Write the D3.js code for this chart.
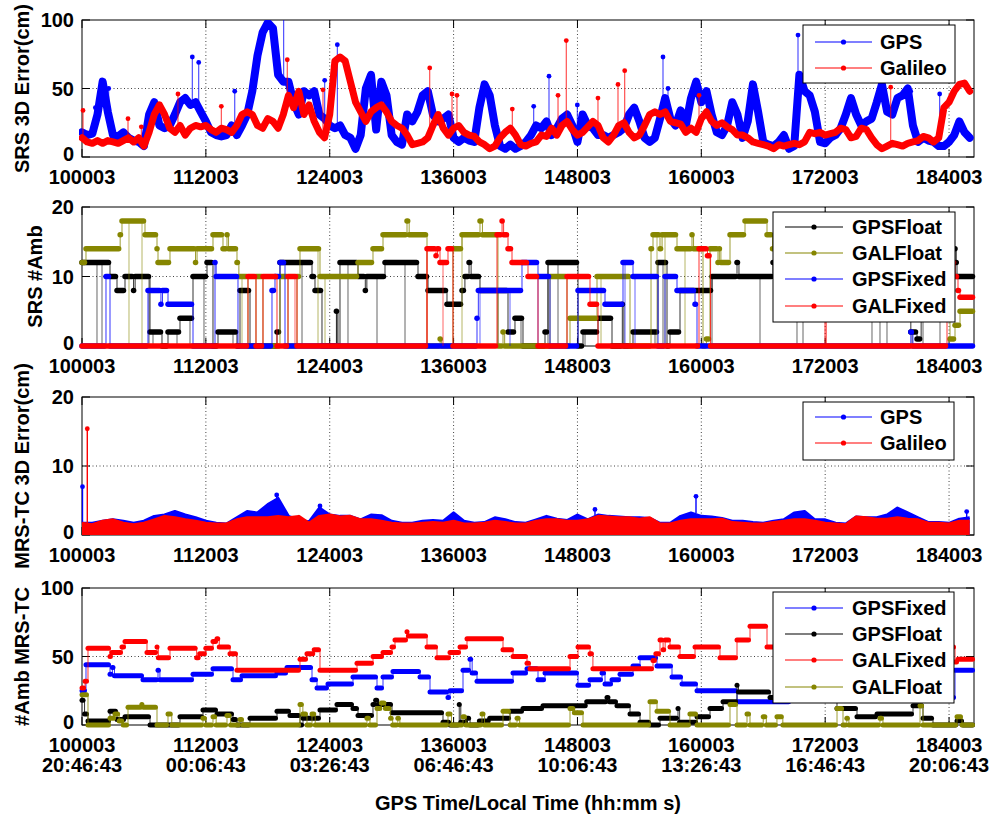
<!DOCTYPE html>
<html><head><meta charset="utf-8">
<script src="https://cdn.jsdelivr.net/npm/d3@7"></script>
<style>
body{margin:0;background:#fff;}
svg{display:block;font-family:"Liberation Sans",Arial,sans-serif;font-weight:bold;}
</style></head><body>
<svg id="chart" width="994" height="814"></svg>
<script>
// ---- time axis ----
const timeStart = 100003, timeEnd = 186420;
const xTickValues = [100003,112003,124003,136003,148003,160003,172003,184003];
const localTimeLabels = ['20:46:43','00:06:43','03:26:43','06:46:43','10:06:43','13:26:43','16:46:43','20:06:43'];
const xAxisTitle = 'GPS Time/Local Time (hh:mm s)';

// ---- SRS 3D error (cm), one sample every 500 s ----
const srsStep = 500;
const srsErrGps = [18,16,17,31,55,33,16,15,18,14, 12,11,8,31,40,23,21,23,31,40, 43,38,40,33,26,18,16,15,16,23,
  16,23,31,48,74,91,98,94,60,55, 55,40,31,48,45,48,31,28,23,21, 23,16,14,6,16,50,60,20,55,45,
  16,11,9,31,26,33,45,48,31,26, 28,31,14,11,14,12,11,36,53,45, 23,8,6,9,6,8,11,16,23,21,
  26,16,21,28,31,23,11,31,23,21, 16,16,14,16,18,21,31,36,26,14, 11,14,28,43,28,23,34,23,43,55,
  40,48,31,18,16,23,40,31,14,26, 53,33,11,9,8,11,16,6,8,60, 48,45,33,11,10,14,16,21,31,43,
  31,23,26,28,40,53,33,31,43,45, 50,23,11,14,12,11,8,8,11,16, 26,18,14];
const srsErrGal = [14,11,10,12,10,12,11,10,12,14, 11,14,8,18,31,38,31,21,18,23, 16,21,23,22,23,20,18,21,20,18,
  23,31,33,31,23,21,28,26,21,31, 45,36,48,31,38,26,18,14,31,70, 73,70,55,40,33,26,33,36,38,33,
  26,23,21,16,9,10,11,14,23,31, 21,16,21,23,18,16,15,11,9,6, 8,14,18,21,16,9,8,10,11,16,
  15,21,16,23,26,20,16,18,22,26, 23,14,11,16,23,25,18,14,16,23, 31,33,31,33,26,25,24,18,21,18,
  28,33,26,23,25,22,20,16,16,14, 11,10,9,8,6,9,8,9,10,9, 11,18,17,18,16,17,18,21,20,14,
  15,21,20,14,9,6,8,10,9,8, 10,11,12,15,14,11,14,36,40,48, 53,54,48];
// isolated outlier samples [time, cm]
const srsSpikesGps = [[101300,36],[102590,50],[110690,73],[111310,69],[114800,48],[119540,140],[123515,56],[124740,82],
  [143763,37],[145246,59],[147990,38],[156290,73],[156775,50],[169369,89],[180285,48],[183093,46]];
const srsSpikesGal = [[100100,34],[104460,28],[105750,22],[109300,46],[113500,37],[119890,71],[123350,49],[133690,65],
  [135850,46],[136330,45],[141690,35],[146120,45],[146920,85],[149990,43],[151930,53],[152580,63],[159780,45],[178350,51]];

// ---- SRS ambiguity counts: [time, count] change points ----
const ambSrsGpsFloat = [[100003,12],[102716,10],[103394,8],[104169,10],[105000,8],[105150,10],[106591,2],[107753,0],[108335,2],
  [109497,4],[110757,10],[112113,12],[112694,0],[113179,2],[115019,0],[115310,8],[116279,0],[118894,2],[119185,12],[122286,10],
  [122576,8],[123254,0],[124650,5],[124800,0],[124998,12],[126742,10],[127450,8],[127600,10],[129358,12],[132555,10],[133524,8],
  [135364,6],[136818,8],[137100,10],[137500,12],[137700,10],[138561,8],[141274,2],[141950,4],[142727,0],[144859,2],[145150,12],
  [148056,0],[148541,2],[149994,4],[151350,0],[152350,6],[152500,0],[153385,2],[155807,12],[156679,0],[156970,2],[157938,8],
  [161038,10],[163460,12],[163650,10],[166948,12],[167200,10],[180300,2],[180900,1],[181300,10],[184580,14],[184700,12],[184774,10]];
const ambSrsGalFloat = [[100003,12],[100390,14],[103700,16],[103878,18],[106106,16],[107270,14],[107366,12],[108528,14],[111000,12],
  [111150,14],[112694,16],[113663,14],[114050,16],[114200,14],[115019,12],[115200,10],[116085,0],[116860,10],[117538,0],[119185,10],
  [119961,0],[120833,10],[121123,14],[123060,10],[126742,12],[128195,14],[129164,16],[131489,18],[131700,16],[133427,0],[134700,1],
  [134850,0],[135946,14],[136818,16],[138561,18],[138800,16],[140300,0],[140790,2],[140950,0],[145344,10],[146991,0],[147281,4],
  [149897,10],[153094,0],[155130,14],[155322,16],[156001,14],[156200,16],[157648,14],[159100,16],[159250,14],[160166,0],[160500,1],
  [160844,14],[161619,12],[161750,14],[161900,12],[162782,16],[164235,18],[166367,16],[166900,14],[184095,1],[184580,3],[185065,5]];
const ambSrsGpsFixed = [[100003,0],[102328,10],[102716,0],[106397,8],[107650,6],[107800,8],[108335,6],[110757,0],[112888,12],
  [113000,10],[115116,0],[118410,8],[118700,10],[119185,12],[119670,0],[138271,4],[138400,8],[142630,12],[144181,10],[145344,0],
  [148056,8],[150672,6],[152416,12],[153385,10],[155807,0],[156485,10],[157648,8],[159392,6],[159585,0],[180300,2],[180500,0]];
const ambSrsGalFixed = [[100003,0],[116085,10],[116860,0],[117538,10],[118894,0],[119961,10],[120833,0],[133427,14],[134300,13],
  [134450,14],[134687,12],[135461,14],[135946,0],[140208,16],[140700,18],[140850,16],[141274,14],[141662,12],[143212,10],[144181,0],
  [146991,10],[149219,6],[149994,0],[159779,14],[160600,13],[160900,0],[171986,12],[172100,0],[183805,12],[184580,10],[184870,8],[185065,7]];
// single epochs where the count fell to zero
const dropsSrsGpsFloat = [101456,101941,106494,106882,109207,110466,111822,114632,117441,117732,117926,121317,124707,125773,128583,
  131296,140305,142534,145150,146119,148734,153094,155516,156291,161038,165688,169272,169854,176538,177313,177991,180414,181480,183127];
const dropsSrsGalFloat = [104556,105816,115504,122867,123545,134202,136818,150284,155710,156485,158423];
const dropsSrsGpsFixed = [138561,141468,144181,147959,152610,153579];
const dropsSrsGalFixed = [115794,120638,133427,134978,152000];

// ---- MRS-TC 3D error (cm), one sample every 1000 s ----
const mrsStep = 1000;
const mrsErrGps = [1.7,1.7,2.0,2.2,2.0,1.7,2.0,2.7,2.9,3.4, 2.9,2.5,2.0,1.7,1.6,2.5,3.4,3.2,4.4,5.3,
  2.7,2.2,1.9,3.9,2.9,2.7,2.7,2.2,2.9,2.8, 2.0,1.7,1.7,2.0,2.1,2.0,3.2,2.0,1.7,1.8,
  2.5,2.2,1.8,1.7,2.2,2.7,2.3,2.1,2.9,2.2, 2.9,2.7,2.6,2.5,2.5,2.4,1.7,1.7,2.7,3.2,
  2.7,2.6,2.4,2.0,2.0,1.8,1.7,2.0,2.2,3.2, 3.4,2.2,2.2,1.7,1.6,2.6,2.5,2.5,2.9,3.9, 3.2,2.5,1.8,1.8,1.7,2.3,2.5];
const mrsErrGal = [1.7,1.5,2.0,2.2,1.7,1.5,1.7,2.2,2.7,2.5, 2.2,2.0,1.7,1.6,1.6,2.2,2.5,2.5,2.5,2.7,
  2.5,2.7,1.7,2.7,2.9,2.6,2.7,2.2,2.2,2.0, 1.7,1.6,1.6,1.7,1.8,1.7,2.0,1.6,1.6,1.7,
  2.0,1.8,1.6,1.6,2.0,2.2,2.2,2.0,2.0,2.2, 2.7,2.6,2.5,2.5,2.3,2.5,1.6,1.6,2.0,2.2,
  2.2,2.2,2.3,1.8,1.7,1.6,1.6,1.8,2.0,2.2, 2.2,2.0,1.7,1.6,1.5,2.6,2.5,2.3,2.3,2.5, 2.3,2.2,1.7,1.7,1.6,2.0,2.0];
const mrsSpikesGps = [[100050,7.0],[118865,5.8],[123060,4.2],[149700,3.7],[159487,5.6],[185712,3.4]];
const mrsSpikesGal = [[100516,15.4]];

// ---- MRS-TC ambiguity counts: [time, count] change points ----
const ambMrsGpsFixed = [[100003,25],[100390,44],[102716,37],[102950,42],[103150,36],[105913,33],[107366,40],[107550,33],[110757,37],
  [112694,41],[114632,33],[115504,36],[118894,38],[119864,42],[122286,33],[122770,27],[123835,30],[126257,35],[128583,27],[129164,35],
  [130132,39],[132749,35],[133718,24],[135461,20],[135655,25],[136915,40],[137593,48],[137800,38],[138271,32],[141759,38],[143115,41],
  [144181,33],[144859,38],[148056,29],[149219,33],[150381,38],[150672,30],[151350,33],[152125,37],[153385,43],[154063,49],[155710,43],
  [157163,35],[158132,30],[159585,25],[163460,17],[168600,20],[184580,40]];
const ambMrsGpsFloat = [[100003,18],[100250,8],[100584,3],[102716,10],[103394,4],[104169,6],[106591,0],[109497,6],[111725,11],
  [113082,8],[114632,4],[115019,0],[116279,5],[118894,10],[120153,7],[121123,0],[121414,5],[123060,11],[124707,15],[126257,12],
  [126742,7],[128195,15],[128450,18],[128700,15],[130036,9],[134978,2],[135655,0],[136550,15],[136700,2],[137302,5],[137600,0],
  [138500,3],[139500,5],[141468,10],[142727,12],[144665,14],[148900,17],[150866,20],[151100,17],[151833,14],[153094,8],[154063,2],
  [155032,0],[156001,5],[157745,12],[157900,2],[159585,6],[160844,12],[162104,17],[163460,29],[163600,24],[166657,20],[173147,12],
  [175085,6],[177023,8],[180511,14],[181480,5],[182449,0],[184774,3],[185356,0]];
const ambMrsGalFixed = [[100003,27],[100300,32],[100584,56],[102716,50],[102900,53],[103878,57],[104169,61],[106300,53],[107270,57],
  [107400,49],[108528,56],[111110,49],[111400,52],[112000,56],[112694,61],[113082,63],[113300,57],[114341,52],[115019,40],[121123,48],
  [121800,52],[122500,55],[123060,40],[126645,45],[128195,50],[129164,53],[130036,57],[130326,62],[131489,68],[131620,65],[133427,57],
  [134396,49],[135655,53],[136624,57],[137302,63],[140790,55],[141759,50],[143115,45],[143406,41],[147281,50],[148056,57],[149219,52],
  [149500,41],[155322,47],[155600,52],[156001,62],[156300,55],[156500,62],[156970,57],[157938,50],[159392,57],[161813,49],[163460,62],
  [164720,72],[166367,57],[184580,46],[184870,48]];
const ambMrsGalFloat = [[100003,22],[100584,0],[102716,5],[103200,8],[103600,3],[104000,0],[104460,13],[105800,15],[105950,13],
  [107269,0],[108335,8],[108700,0],[111725,5],[112000,0],[112694,6],[113000,0],[114050,7],[114400,0],[115310,4],[115600,0],[121123,15],
  [121400,8],[121800,0],[122286,8],[122600,0],[127610,5],[127900,0],[128583,12],[129000,16],[129400,12],[129900,5],[130100,0],[130600,5],
  [130800,0],[135461,8],[135800,0],[136915,6],[137200,0],[138755,8],[139000,0],[140790,10],[141468,0],[142150,5],[142400,0],[147281,12],
  [147700,9],[148541,0],[155030,17],[155710,10],[156970,0],[158900,8],[159585,0],[162782,15],[163460,0],[164429,8],[164720,0],[166000,6],
  [166300,0],[167330,6],[167900,0],[173150,12],[173730,0],[174100,5],[174300,0],[177313,5],[177600,0],[181190,14],[181480,0],[184774,6],[185259,0]];

// ---- drawing ----
const BLUE = '#0000ff', RED = '#ff0000', OLIVE = '#868600', BLACK = '#000000';
const svg = d3.select('#chart');
const x = d3.scaleLinear().domain([timeStart, timeEnd]).range([82, 974]);
const defs = svg.append('defs');

const panels = [
  {top: 20,  bottom: 157, max: 100, ticks: [0, 50, 100], label: 'SRS 3D Error(cm)',    labelX: 22},
  {top: 207, bottom: 346, max: 20,  ticks: [0, 10, 20],  label: 'SRS #Amb',            labelX: 35},
  {top: 397, bottom: 535, max: 20,  ticks: [0, 10, 20],  label: 'MRS-TC 3D Error(cm)', labelX: 22},
  {top: 588, bottom: 725, max: 100, ticks: [0, 50, 100], label: '#Amb MRS-TC',         labelX: 22}
];

function frame(p, k) {
  const y = d3.scaleLinear().domain([0, p.max]).range([p.bottom, p.top]);
  const [L, R] = x.range();
  const g = svg.append('g');
  // dotted grid
  xTickValues.slice(1).forEach(t => g.append('line').attr('x1', x(t)).attr('x2', x(t)).attr('y1', p.top).attr('y2', p.bottom)
    .attr('stroke', '#444').attr('stroke-width', 1).attr('stroke-dasharray', '1,2.5'));
  p.ticks.slice(1, -1).forEach(v => g.append('line').attr('x1', L).attr('x2', R).attr('y1', y(v)).attr('y2', y(v))
    .attr('stroke', '#444').attr('stroke-width', 1).attr('stroke-dasharray', '1,2.5'));
  // box and inward ticks
  g.append('rect').attr('x', L).attr('y', p.top).attr('width', R - L).attr('height', p.bottom - p.top)
    .attr('fill', 'none').attr('stroke', '#000').attr('stroke-width', 1);
  xTickValues.forEach(t => {
    g.append('line').attr('x1', x(t)).attr('x2', x(t)).attr('y1', p.bottom).attr('y2', p.bottom - 8).attr('stroke', '#000');
    g.append('line').attr('x1', x(t)).attr('x2', x(t)).attr('y1', p.top).attr('y2', p.top + 8).attr('stroke', '#000');
  });
  p.ticks.forEach(v => {
    g.append('line').attr('x1', L).attr('x2', L + 8).attr('y1', y(v)).attr('y2', y(v)).attr('stroke', '#000');
    g.append('line').attr('x1', R).attr('x2', R - 8).attr('y1', y(v)).attr('y2', y(v)).attr('stroke', '#000');
    g.append('text').attr('x', 74).attr('y', y(v)).attr('dy', v === 0 ? '0.2em' : '0.36em').attr('text-anchor', 'end')
      .attr('font-size', 20).text(v);
  });
  xTickValues.forEach(t => g.append('text').attr('x', x(t)).attr('y', p.bottom + 26.5).attr('text-anchor', 'middle')
    .attr('font-size', 20).text(t));
  g.append('text').attr('transform', `translate(${p.labelX},${(p.top + p.bottom) / 2}) rotate(-90)`)
    .attr('text-anchor', 'middle').attr('dy', '0.36em').attr('font-size', 20).text(p.label);
  defs.append('clipPath').attr('id', 'clip' + k).append('rect')
    .attr('x', L - 3).attr('y', p.top).attr('width', R - L + 6).attr('height', p.bottom - p.top + 3);
  const d = svg.append('g').attr('clip-path', `url(#clip${k})`);
  return {y, d};
}

function legend(entries, box, rows, lineX, textX) {
  const g = svg.append('g');
  g.append('rect').attr('x', box[0]).attr('y', box[1]).attr('width', box[2] - box[0]).attr('height', box[3] - box[1])
    .attr('fill', '#fff').attr('stroke', '#000').attr('stroke-width', 1);
  entries.forEach((e, k) => {
    g.append('line').attr('x1', lineX[0]).attr('x2', lineX[1]).attr('y1', rows[k]).attr('y2', rows[k])
      .attr('stroke', e[1]).attr('stroke-width', 1.2);
    g.append('circle').attr('cx', (lineX[0] + lineX[1]) / 2).attr('cy', rows[k]).attr('r', 2.6).attr('fill', e[1]);
    g.append('text').attr('x', textX).attr('y', rows[k]).attr('dy', '0.36em').attr('font-size', 20).text(e[0]);
  });
}

// dense error series: heavy line through the samples plus thin outlier spikes
function errorSeries(d, y, values, step, spikes, color, width) {
  const line = d3.line().x((v, i) => x(timeStart + i * step)).y(v => y(v)).curve(d3.curveLinear);
  d.append('path').attr('d', line(values)).attr('fill', 'none').attr('stroke', color)
    .attr('stroke-width', width).attr('stroke-linejoin', 'round').attr('stroke-linecap', 'round');
  spikes.forEach(([t, v]) => {
    const base = values[Math.min(values.length - 1, Math.round((t - timeStart) / step))];
    d.append('line').attr('x1', x(t)).attr('x2', x(t)).attr('y1', y(base)).attr('y2', y(v))
      .attr('stroke', color).attr('stroke-width', 1.1).attr('stroke-opacity', 0.75);
    d.append('circle').attr('cx', x(t)).attr('cy', y(v)).attr('r', 2.4).attr('fill', color);
  });
}

function levelAt(changes, t) {
  let v = changes[0][1];
  for (const c of changes) { if (c[0] <= t) v = c[1]; else break; }
  return v;
}

// count series: thin step trace, heavy runs of samples, and single-epoch drops to zero
function stepSeries(d, y, changes, drops, color, width) {
  const pts = changes.concat([[timeEnd, changes[changes.length - 1][1]]]);
  const line = d3.line().x(c => x(c[0])).y(c => y(c[1])).curve(d3.curveStepAfter);
  d.append('path').attr('d', line(pts)).attr('fill', 'none').attr('stroke', color)
    .attr('stroke-width', 1).attr('stroke-opacity', 0.8);
  drops.forEach(t => d.append('line').attr('x1', x(t)).attr('x2', x(t)).attr('y1', y(levelAt(changes, t))).attr('y2', y(0))
    .attr('stroke', color).attr('stroke-width', 1).attr('stroke-opacity', 0.6));
  changes.forEach((c, k) => {
    const t1 = k + 1 < changes.length ? changes[k + 1][0] : timeEnd;
    d.append('line').attr('x1', x(c[0])).attr('x2', Math.max(x(c[0]), x(t1) - 1.5)).attr('y1', y(c[1])).attr('y2', y(c[1]))
      .attr('stroke', color).attr('stroke-width', width).attr('stroke-linecap', 'round');
  });
}

// dense sub-decimetre series: the samples fill the band down to the axis
function bandSeries(d, y, values, step, spikes, color) {
  const area = d3.area().x((v, i) => x(timeStart + i * step)).y0(y(0)).y1(v => y(v));
  d.append('path').attr('d', area(values)).attr('fill', color);
  const line = d3.line().x((v, i) => x(timeStart + i * step)).y(v => y(v));
  d.append('path').attr('d', line(values)).attr('fill', 'none').attr('stroke', color).attr('stroke-width', 3)
    .attr('stroke-linejoin', 'round');
  spikes.forEach(([t, v]) => {
    const base = values[Math.min(values.length - 1, Math.round((t - timeStart) / step))];
    d.append('line').attr('x1', x(t)).attr('x2', x(t)).attr('y1', y(base)).attr('y2', y(v))
      .attr('stroke', color).attr('stroke-width', 1.4);
    d.append('circle').attr('cx', x(t)).attr('cy', y(v)).attr('r', 2.4).attr('fill', color);
  });
}

// panel 1
{
  const {y, d} = frame(panels[0], 0);
  errorSeries(d, y, srsErrGps, srsStep, srsSpikesGps, BLUE, 8);
  errorSeries(d, y, srsErrGal, srsStep, srsSpikesGal, RED, 7);
  legend([['GPS', BLUE], ['Galileo', RED]], [803, 25, 955, 83], [42, 68], [815, 872], [880]);
}
// panel 2
{
  const {y, d} = frame(panels[1], 1);
  stepSeries(d, y, ambSrsGpsFloat, dropsSrsGpsFloat, BLACK, 5.5);
  stepSeries(d, y, ambSrsGalFloat, dropsSrsGalFloat, OLIVE, 5.5);
  stepSeries(d, y, ambSrsGpsFixed, dropsSrsGpsFixed, BLUE, 5.5);
  stepSeries(d, y, ambSrsGalFixed, dropsSrsGalFixed, RED, 5.5);
  legend([['GPSFloat', BLACK], ['GALFloat', OLIVE], ['GPSFixed', BLUE], ['GALFixed', RED]],
    [773, 212, 955, 322], [227, 253, 279, 306], [785, 843], [852]);
}
// panel 3
{
  const {y, d} = frame(panels[2], 2);
  bandSeries(d, y, mrsErrGps, mrsStep, mrsSpikesGps, BLUE);
  bandSeries(d, y, mrsErrGal, mrsStep, mrsSpikesGal, RED);
  legend([['GPS', BLUE], ['Galileo', RED]], [803, 402, 954, 460], [417, 443], [815, 872], [880]);
}
// panel 4
{
  const p = panels[3];
  const {y, d} = frame(p, 3);
  stepSeries(d, y, ambMrsGpsFixed, [], BLUE, 5);
  stepSeries(d, y, ambMrsGpsFloat, [], BLACK, 5);
  stepSeries(d, y, ambMrsGalFixed, [], RED, 5);
  stepSeries(d, y, ambMrsGalFloat, [], OLIVE, 5);
  legend([['GPSFixed', BLUE], ['GPSFloat', BLACK], ['GALFixed', RED], ['GALFloat', OLIVE]],
    [773, 592, 954, 703], [608, 634, 660, 687], [785, 843], [852]);
  xTickValues.forEach((t, i) => svg.append('text').attr('x', x(t)).attr('y', p.bottom + 47).attr('text-anchor', 'middle')
    .attr('font-size', 20).text(localTimeLabels[i]));
  svg.append('text').attr('x', 528).attr('y', 810).attr('text-anchor', 'middle').attr('font-size', 20).text(xAxisTitle);
}
</script></body></html>
